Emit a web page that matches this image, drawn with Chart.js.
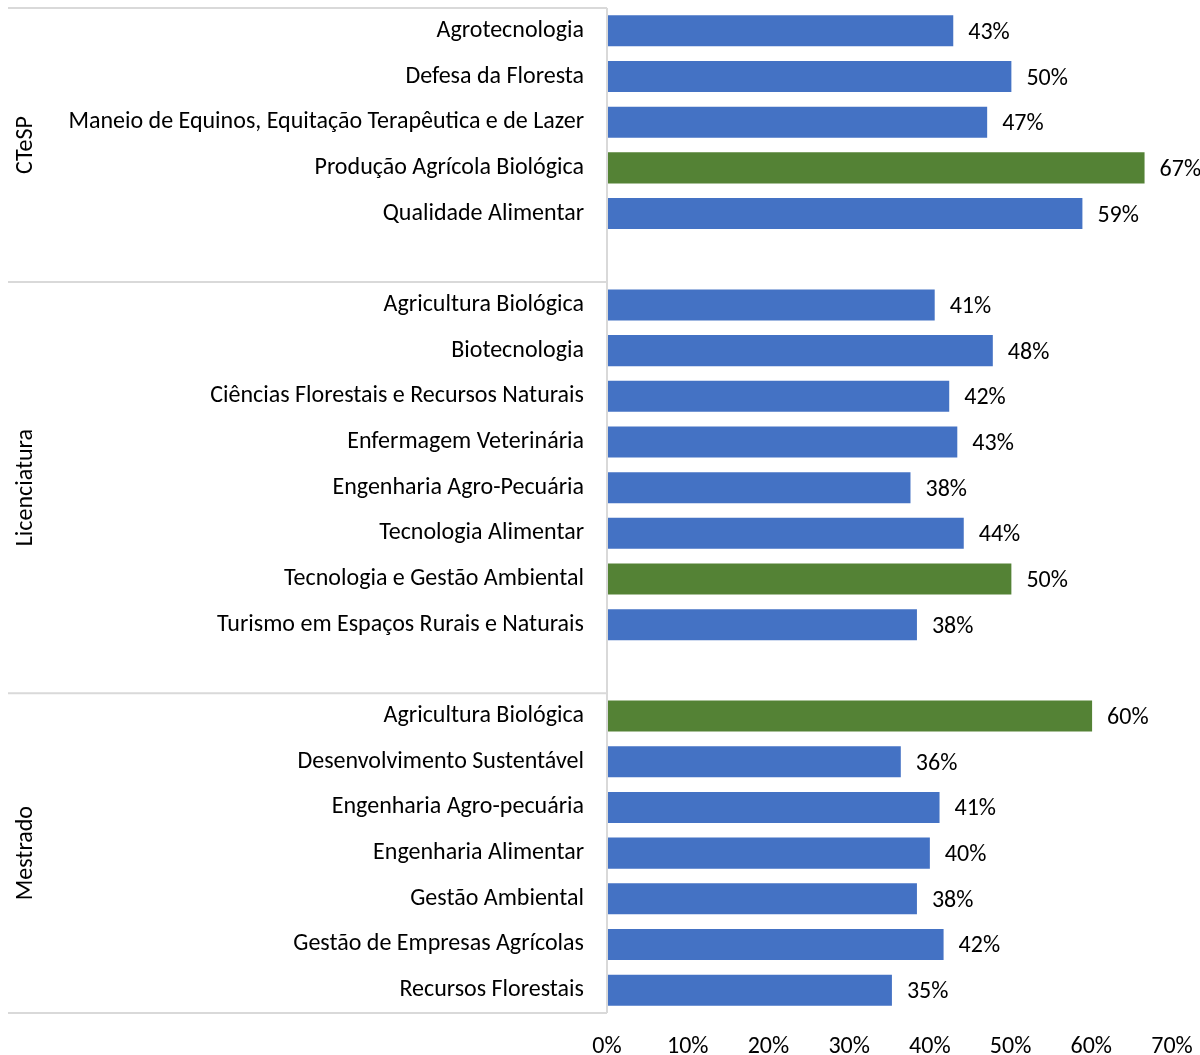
<!DOCTYPE html>
<html>
<head>
<meta charset="utf-8">
<script src="https://cdn.jsdelivr.net/npm/chart.js@4"></script>
<style>
  body { margin: 0; background: #fff; }
  #wrap { width: 1200px; height: 1055px; }
</style>
</head>
<body>
<div id="wrap"><canvas id="grafico"></canvas></div>
<script>
// rótulos das linhas ('' = linha vazia entre grupos)
const cursos = [
  'Agrotecnologia', 'Defesa da Floresta', 'Maneio de Equinos, Equitação Terapêutica e de Lazer',
  'Produção Agrícola Biológica', 'Qualidade Alimentar', '',
  'Agricultura Biológica', 'Biotecnologia', 'Ciências Florestais e Recursos Naturais',
  'Enfermagem Veterinária', 'Engenharia Agro-Pecuária', 'Tecnologia Alimentar',
  'Tecnologia e Gestão Ambiental', 'Turismo em Espaços Rurais e Naturais', '',
  'Agricultura Biológica', 'Desenvolvimento Sustentável', 'Engenharia Agro-pecuária',
  'Engenharia Alimentar', 'Gestão Ambiental', 'Gestão de Empresas Agrícolas', 'Recursos Florestais'
]
const valores = [
  42.9, 50.1, 47.1, 66.6, 58.9, null,
  40.6, 47.8, 42.4, 43.4, 37.6, 44.2, 50.1, 38.4, null,
  60.1, 36.4, 41.2, 40.0, 38.4, 41.7, 35.3
]
// destaque (melhor de cada grupo)
const destaque = [
  false, false, false, true, false, false,
  false, false, false, false, false, false, true, false, false,
  true, false, false, false, false, false, false
]
// grupos: nome, primeira e última linha
const grupos = ['CTeSP', 'Licenciatura', 'Mestrado']
const inicioGrupo = [0, 6, 15]
const fimGrupo = [5, 14, 21]
const ticksX = [0, 10, 20, 30, 40, 50, 60, 70]

const fonte = "Carlito, Calibri, Lato, sans-serif"
const tamanho = 24
const azul = '#4472C4'
const verde = '#548235'
const cinza = '#d9d9d9'

const cores = destaque.map(d => d ? verde : azul)

const pluginExtras = {
  id: 'extras',
  afterDatasetsDraw(chart) {
    const ctx = chart.ctx
    const x = chart.scales.x
    const y = chart.scales.y
    const area = chart.chartArea
    const passo = y.getPixelForValue(1) - y.getPixelForValue(0)

    // rótulos de dados
    ctx.save()
    ctx.font = tamanho + 'px ' + fonte
    ctx.fillStyle = '#000'
    ctx.textAlign = 'left'
    ctx.textBaseline = 'middle'
    valores.forEach((v, i) => {
      if (v === null) return
      ctx.fillText(Math.round(v) + '%', x.getPixelForValue(v) + 15, y.getPixelForValue(i) + 2)
    })
    ctx.restore()

    // linhas dos grupos e eixo
    ctx.save()
    ctx.strokeStyle = cinza
    ctx.lineWidth = 2
    ctx.beginPath()
    const topo = y.getPixelForValue(0) - passo / 2
    ctx.moveTo(8, topo)
    ctx.lineTo(area.left, topo)
    fimGrupo.forEach(f => {
      const yy = y.getPixelForValue(f) + passo / 2
      ctx.moveTo(8, yy)
      ctx.lineTo(area.left, yy)
    })
    ctx.moveTo(area.left, topo)
    ctx.lineTo(area.left, area.bottom)
    ctx.stroke()
    ctx.restore()

    // nomes dos grupos
    ctx.save()
    ctx.font = tamanho + 'px ' + fonte
    ctx.fillStyle = '#000'
    ctx.textAlign = 'center'
    ctx.textBaseline = 'middle'
    grupos.forEach((g, k) => {
      const a = y.getPixelForValue(inicioGrupo[k]) - passo / 2
      const b = y.getPixelForValue(fimGrupo[k]) + passo / 2
      ctx.save()
      ctx.translate(26, (a + b) / 2)
      ctx.rotate(-Math.PI / 2)
      ctx.fillText(g, 0, 0)
      ctx.restore()
    })
    ctx.restore()
  }
}

new Chart(document.getElementById('grafico'), {
  type: 'bar',
  data: {
    labels: cursos,
    datasets: [{
      data: valores,
      backgroundColor: cores,
      borderWidth: 0,
      categoryPercentage: 1,
      barPercentage: 0.68
    }]
  },
  options: {
    indexAxis: 'y',
    responsive: true,
    maintainAspectRatio: false,
    animation: false,
    layout: { padding: { top: 8, right: 28, left: 0, bottom: 0 } },
    plugins: { legend: { display: false }, tooltip: { enabled: false } },
    scales: {
      x: {
        min: 0,
        max: 70,
        afterBuildTicks(s) { s.ticks = ticksX.map(v => ({ value: v })) },
        afterFit(s) { s.height = 42; s.paddingLeft = 0; s.paddingRight = 0 },
        grid: { display: false, drawTicks: false },
        border: { display: false },
        ticks: {
          padding: 20,
          color: '#000',
          font: { family: fonte, size: tamanho },
          callback: v => v + '%'
        }
      },
      y: {
        afterFit(s) { s.width = 607; s.paddingTop = 0; s.paddingBottom = 0 },
        grid: { display: false, drawTicks: false },
        border: { display: false },
        ticks: {
          padding: 23,
          autoSkip: false,
          color: '#000',
          font: { family: fonte, size: tamanho }
        }
      }
    }
  },
  plugins: [pluginExtras]
})
</script>
</body>
</html>
